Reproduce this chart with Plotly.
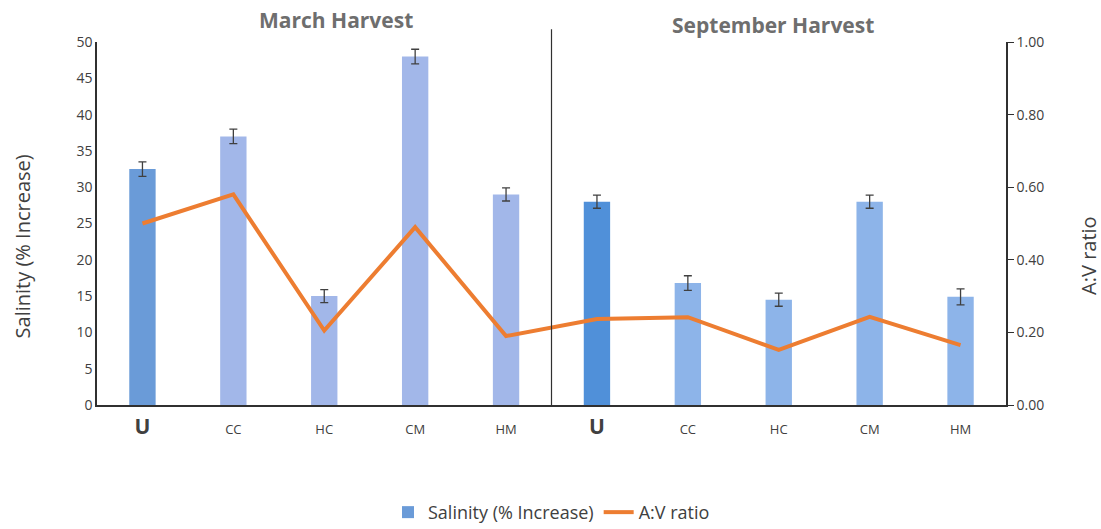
import plotly.graph_objects as go

categories = ["U", "CC", "HC", "CM", "HM", "U", "CC", "HC", "CM", "HM"]
cat_ids = ["U-Mar", "CC-Mar", "HC-Mar", "CM-Mar", "HM-Mar",
           "U-Sep", "CC-Sep", "HC-Sep", "CM-Sep", "HM-Sep"]
salinity = [32.5, 37.0, 15.0, 48.0, 29.0, 28.0, 16.8, 14.5, 28.0, 14.9]
salinity_err = [1.0, 1.0, 0.9, 1.0, 0.9, 0.9, 1.0, 0.9, 0.9, 1.1]
av_ratio = [0.50, 0.58, 0.205, 0.49, 0.19, 0.237, 0.242, 0.152, 0.243, 0.165]
bar_colors = ["#6a9bd8", "#a2b7e9", "#a2b7e9", "#a2b7e9", "#a2b7e9",
              "#5090d9", "#8db4e9", "#8db4e9", "#8db4e9", "#8db4e9"]
left_ticks = list(range(0, 55, 5))
right_ticks = [0.0, 0.2, 0.4, 0.6, 0.8, 1.0]

font = "Open Sans, Liberation Sans, sans-serif"
txt = "#404040"

ticktext = [("<span style='font-size:21px'><b>%s</b></span>" % c) if c == "U" else c
            for c in categories]

fig = go.Figure()
fig.add_trace(go.Bar(
    x=cat_ids, y=salinity, name="Salinity (% Increase)",
    marker=dict(color=bar_colors, line=dict(width=0)),
    width=0.29,
    error_y=dict(type="data", array=salinity_err, color="#404040",
                 thickness=1.3, width=4),
))
fig.add_trace(go.Scatter(
    x=cat_ids, y=av_ratio, name="A:V ratio", yaxis="y2", mode="lines",
    line=dict(color="#ed7d31", width=4),
))

fig.add_shape(type="line", xref="x", yref="paper", x0=4.5, x1=4.5,
              y0=0, y1=1.035, line=dict(color="#303030", width=1.2))

fig.add_annotation(text="<b>March Harvest</b>", xref="paper", yref="paper",
                   x=0.263, y=1.06, xanchor="center", yanchor="middle", showarrow=False,
                   font=dict(family=font, size=21, color="#6e6e6e"))
fig.add_annotation(text="<b>September Harvest</b>", xref="paper", yref="paper",
                   x=0.744, y=1.047, xanchor="center", yanchor="middle", showarrow=False,
                   font=dict(family=font, size=21, color="#6e6e6e"))
# axis titles
fig.add_annotation(text="Salinity (% Increase)", xref="paper", yref="paper",
                   x=-0.0825, y=0.437, xanchor="center", yanchor="middle",
                   textangle=-90, showarrow=False,
                   font=dict(family=font, size=20, color=txt))
fig.add_annotation(text="A:V ratio", xref="paper", yref="paper",
                   x=1.09, y=0.413, xanchor="center", yanchor="middle",
                   textangle=-90, showarrow=False,
                   font=dict(family=font, size=20, color=txt))

fig.update_layout(
    width=1101, height=529,
    margin=dict(l=97, r=95, t=42, b=124, autoexpand=False),
    paper_bgcolor="white", plot_bgcolor="white",
    font=dict(family=font, size=13, color=txt),
    showlegend=True,
    legend=dict(orientation="h", x=0.5, xanchor="center", y=-0.245, yanchor="top",
                font=dict(size=18, color=txt)),
    xaxis=dict(type="category", tickmode="array", tickvals=cat_ids, ticktext=ticktext,
               showline=True, linecolor="#303030", linewidth=1.5, automargin=False,
               ticks="", showgrid=False, tickfont=dict(size=13, color=txt),
               ticklabelstandoff=12),
    yaxis=dict(range=[0, 50], tickvals=left_ticks, showline=True, automargin=False,
               linecolor="#303030", linewidth=1.5, showgrid=False, zeroline=False,
               ticks="", tickfont=dict(size=14, color=txt)),
    yaxis2=dict(range=[0, 1], tickvals=right_ticks, tickformat=".2f", automargin=False,
                overlaying="y", side="right", showline=True, linecolor="#303030",
                linewidth=1.5, showgrid=False, zeroline=False, ticks="outside",
                ticklen=6, tickcolor="#303030", tickfont=dict(size=14, color=txt)),
    bargap=0.7,
)

fig.write_html("out.html", config={"displayModeBar": False},
               post_script="document.body.style.margin='0';")
